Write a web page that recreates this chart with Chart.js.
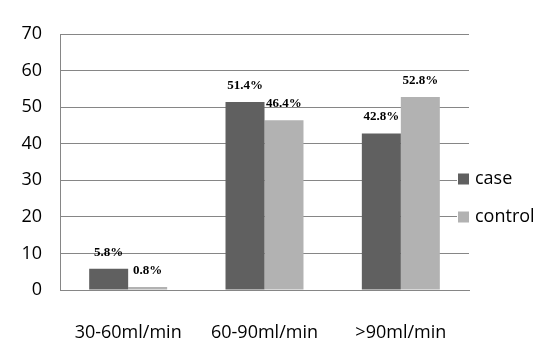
<!DOCTYPE html>
<html>
<head>
<meta charset="utf-8">
<script src="https://cdn.jsdelivr.net/npm/chart.js@4"></script>
<style>
  html, body { margin: 0; padding: 0; background: #fff; }
  #wrap { width: 556px; height: 348px; }
</style>
</head>
<body>
<div id="wrap"><canvas id="c" width="556" height="348"></canvas></div>
<script>
// data
const categories = ['30-60ml/min', '60-90ml/min', '>90ml/min']
const caseValues = [5.8, 51.4, 42.8]
const controlValues = [0.8, 46.4, 52.8]
const seriesNames = ['case', 'control']
const yTicks = [0, 10, 20, 30, 40, 50, 60, 70]

const caseColor = '#606060'
const controlColor = '#b2b2b2'
const gridColor = '#868686'
const tickFont = { family: '"Open Sans", sans-serif', size: 18 }

// percent labels above each bar
const barLabels = {
  id: 'barLabels',
  afterDatasetsDraw(chart) {
    const ctx = chart.ctx
    ctx.save()
    ctx.font = 'bold 13px "Liberation Serif", serif'
    ctx.fillStyle = '#000'
    ctx.textAlign = 'center'
    ctx.textBaseline = 'alphabetic'
    chart.data.datasets.forEach((ds, i) => {
      chart.getDatasetMeta(i).data.forEach((bar, j) => {
        ctx.fillText(ds.data[j].toFixed(1) + '%', bar.x, bar.y - 13)
      })
    })
    ctx.restore()
  }
}

// Excel-style legend floating at the right edge of the plot
const sideLegend = {
  id: 'sideLegend',
  afterDraw(chart) {
    const ctx = chart.ctx
    const x0 = 457
    ctx.save()
    ctx.fillStyle = '#fff'
    ctx.fillRect(x0, 165, 556 - x0, 68)
    ctx.font = '18px "Open Sans", sans-serif'
    ctx.textBaseline = 'middle'
    chart.data.datasets.forEach((ds, i) => {
      const cy = 179 + i * 38
      ctx.fillStyle = ds.backgroundColor
      ctx.fillRect(458, cy - 5.5, 11, 11)
      ctx.fillStyle = '#000'
      ctx.fillText(ds.label, 475, cy)
    })
    ctx.restore()
  }
}

new Chart(document.getElementById('c'), {
  type: 'bar',
  data: {
    labels: categories,
    datasets: [
      { label: seriesNames[0], data: caseValues, backgroundColor: caseColor },
      { label: seriesNames[1], data: controlValues, backgroundColor: controlColor }
    ]
  },
  options: {
    responsive: false,
    animation: false,
    events: [],
    layout: { padding: { left: 0, top: 34, right: 87, bottom: 0 } },
    datasets: { bar: { categoryPercentage: 0.572, barPercentage: 1 } },
    plugins: { legend: { display: false }, tooltip: { enabled: false } },
    scales: {
      x: {
        grid: { display: false },
        border: { display: true, color: gridColor },
        ticks: { color: '#000', font: tickFont, padding: 24, maxRotation: 0 },
        afterFit(scale) { scale.height = 58 }
      },
      y: {
        min: 0,
        max: 70,
        afterBuildTicks(scale) { scale.ticks = yTicks.map(v => ({ value: v })) },
        grid: { color: gridColor, drawTicks: false },
        border: { display: true, color: gridColor },
        ticks: { color: '#000', font: tickFont, padding: 18 },
        afterFit(scale) { scale.width = 60 }
      }
    }
  },
  plugins: [barLabels, sideLegend]
})
</script>
</body>
</html>
